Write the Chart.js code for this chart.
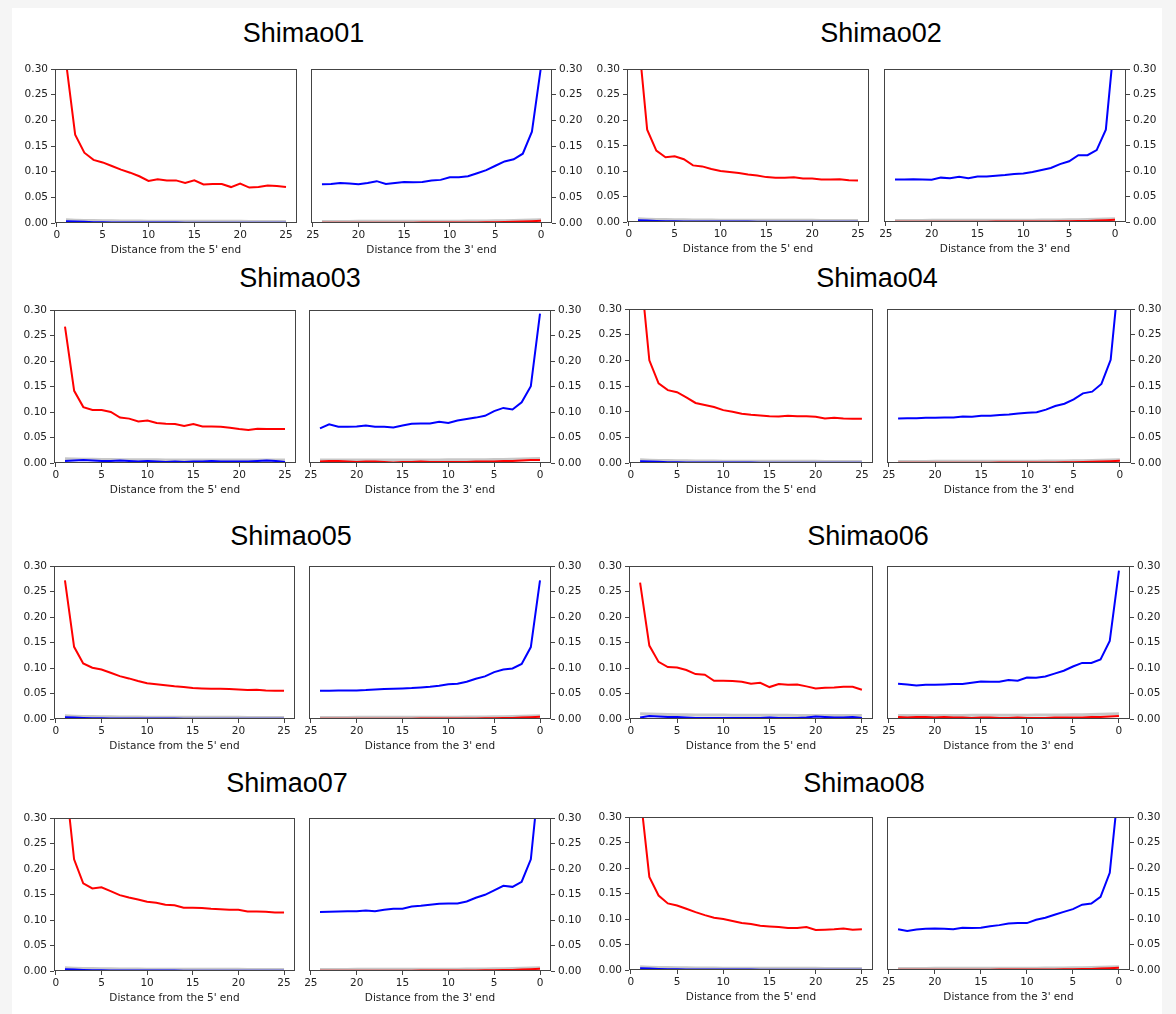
<!DOCTYPE html>
<html lang="en">
<head>
<meta charset="UTF-8">
<title>Shimao damage profiles</title>
<script src="https://cdn.jsdelivr.net/npm/chart.js"></script>
<style>
  html, body { margin: 0; padding: 0; }
  body { width: 1176px; height: 1014px; position: relative; background: #f5f5f5; overflow: hidden; }
  .sheet { position: absolute; left: 12px; top: 8px; width: 1150px; height: 1006px; background: #fff; }
  .title { position: absolute; font-family: "Liberation Sans", Arial, sans-serif; font-size: 27px; color: #000;
           transform: translate(-50%, -50%); white-space: nowrap; line-height: 1; }
  canvas { position: absolute; }
</style>
</head>
<body>
<div class="sheet"></div>
<script>
// positions along the read
const pos5 = [1,2,3,4,5,6,7,8,9,10,11,12,13,14,15,16,17,18,19,20,21,22,23,24,25];
const pos3 = [0,1,2,3,4,5,6,7,8,9,10,11,12,13,14,15,16,17,18,19,20,21,22,23,24];
const sampleNames = ['Shimao01','Shimao02','Shimao03','Shimao04','Shimao05','Shimao06','Shimao07','Shimao08'];

// C>T from the 5' end (red), x = 1..25
const ct5_01 = [0.314,0.172,0.137,0.123,0.118,0.111,0.104,0.098,0.091,0.082,0.085,0.083,0.083,0.078,0.083,0.075,0.076,0.076,0.070,0.077,0.069,0.070,0.073,0.072,0.070];
const ct5_02 = [0.370,0.181,0.140,0.127,0.129,0.123,0.111,0.109,0.104,0.100,0.098,0.096,0.093,0.091,0.088,0.087,0.087,0.0875,0.0855,0.0855,0.0835,0.0835,0.084,0.082,0.0815];
const ct5_03 = [0.2675,0.1415,0.1096,0.104,0.104,0.100,0.089,0.087,0.0815,0.0835,0.0785,0.077,0.0763,0.0724,0.0763,0.0718,0.0718,0.071,0.069,0.0665,0.0646,0.067,0.0665,0.0665,0.0665];
const ct5_04 = [0.385,0.200,0.155,0.142,0.138,0.128,0.117,0.113,0.109,0.103,0.0998,0.096,0.094,0.0926,0.0913,0.0907,0.092,0.0913,0.0913,0.090,0.0868,0.088,0.0868,0.086,0.086];
const ct5_05 = [0.272,0.1415,0.109,0.1005,0.097,0.0907,0.084,0.0796,0.0744,0.070,0.068,0.066,0.064,0.0626,0.0607,0.060,0.0594,0.0594,0.0587,0.058,0.0568,0.0574,0.0561,0.0555,0.0555];
const ct5_06 = [0.2675,0.144,0.112,0.1018,0.101,0.096,0.088,0.0868,0.075,0.075,0.0744,0.073,0.069,0.071,0.0626,0.0685,0.067,0.0678,0.064,0.060,0.0613,0.062,0.0633,0.0633,0.0574];
const ct5_07 = [0.386,0.219,0.172,0.162,0.164,0.1566,0.1487,0.144,0.140,0.1357,0.134,0.130,0.129,0.124,0.124,0.1233,0.122,0.1213,0.120,0.120,0.1168,0.1168,0.116,0.1148,0.1148];
const ct5_08 = [0.348,0.1826,0.146,0.1305,0.1265,0.120,0.1135,0.1076,0.1024,0.0998,0.096,0.092,0.090,0.0867,0.0855,0.0841,0.0822,0.0822,0.0841,0.0783,0.079,0.080,0.0815,0.079,0.080];

// G>A from the 3' end (blue), x = 0..24
const ga3_01 = [0.305,0.178,0.135,0.124,0.120,0.1115,0.103,0.097,0.091,0.089,0.089,0.084,0.083,0.080,0.0796,0.080,0.078,0.076,0.0815,0.078,0.0757,0.077,0.078,0.076,0.0757];
const ga3_02 = [0.370,0.181,0.141,0.131,0.131,0.119,0.1135,0.106,0.102,0.098,0.095,0.094,0.092,0.0907,0.0894,0.0894,0.086,0.0887,0.086,0.087,0.083,0.0835,0.084,0.0835,0.0835];
const ga3_03 = [0.2928,0.1507,0.119,0.105,0.108,0.1017,0.0926,0.089,0.0862,0.0835,0.0785,0.081,0.0776,0.0776,0.077,0.0737,0.0698,0.071,0.071,0.0737,0.0718,0.071,0.071,0.0757,0.0678];
const ga3_04 = [0.385,0.201,0.154,0.139,0.1357,0.124,0.1155,0.111,0.104,0.099,0.0978,0.0965,0.0946,0.0933,0.092,0.092,0.090,0.0907,0.0887,0.0887,0.088,0.088,0.0874,0.0874,0.0868];
const ga3_05 = [0.272,0.141,0.108,0.099,0.097,0.092,0.0835,0.079,0.073,0.069,0.068,0.0652,0.0633,0.062,0.0607,0.060,0.0594,0.0587,0.058,0.0568,0.0561,0.0561,0.0561,0.0555,0.0555];
const ga3_06 = [0.291,0.153,0.1168,0.110,0.110,0.103,0.0946,0.089,0.0835,0.081,0.0815,0.075,0.0763,0.073,0.073,0.0737,0.071,0.0685,0.0685,0.0678,0.067,0.067,0.0659,0.0678,0.069];
const ga3_07 = [0.396,0.219,0.175,0.165,0.167,0.158,0.1494,0.1435,0.1363,0.1324,0.1324,0.1318,0.130,0.128,0.1266,0.122,0.122,0.120,0.1174,0.1187,0.1174,0.1174,0.1168,0.116,0.1155];
const ga3_08 = [0.367,0.1905,0.1435,0.1305,0.128,0.1194,0.114,0.1083,0.1024,0.0985,0.092,0.092,0.0913,0.088,0.086,0.083,0.0822,0.083,0.080,0.081,0.0815,0.081,0.0796,0.0763,0.080];

// near-zero lines: G>A at 5', C>T at 3', other substitutions (grey)
const ga5_low    = [0.0035,0.0028,0.0022,0.0017,0.0014,0.0012,0.0011,0.001,0.0009,0.0009,0.0008,0.0008,0.0008,0.0007,0.0007,0.0007,0.0007,0.0007,0.0006,0.0006,0.0006,0.0006,0.0006,0.0006,0.0006];
const other5_low = [0.0062,0.0056,0.0051,0.0047,0.0044,0.0042,0.004,0.0038,0.0037,0.0036,0.0035,0.0034,0.0034,0.0033,0.0033,0.0033,0.0032,0.0032,0.0032,0.0032,0.0031,0.0031,0.0031,0.0031,0.0031];
const ct3_low    = [0.0042,0.0034,0.0027,0.0022,0.0018,0.0015,0.0013,0.0011,0.001,0.0009,0.0009,0.0008,0.0008,0.0008,0.0007,0.0007,0.0007,0.0007,0.0007,0.0006,0.0006,0.0006,0.0006,0.0006,0.0006];
const other3_low = [0.0064,0.0058,0.0053,0.0048,0.0045,0.0042,0.004,0.0039,0.0037,0.0036,0.0035,0.0035,0.0034,0.0034,0.0033,0.0033,0.0033,0.0032,0.0032,0.0032,0.0032,0.0031,0.0031,0.0031,0.0031];
const ga5_03    = [0.004,0.005,0.006,0.005,0.004,0.004,0.005,0.004,0.003,0.004,0.003,0.002,0.003,0.002,0.003,0.003,0.004,0.003,0.003,0.003,0.003,0.004,0.005,0.004,0.002];
const other5_03 = [0.0085,0.008,0.0075,0.0072,0.007,0.0068,0.0066,0.0065,0.0064,0.0063,0.0062,0.0061,0.0061,0.006,0.006,0.006,0.006,0.0059,0.0059,0.0059,0.0059,0.0059,0.0058,0.0058,0.0058];
const ct3_03    = [0.006,0.006,0.005,0.004,0.004,0.003,0.003,0.003,0.002,0.002,0.002,0.002,0.002,0.003,0.002,0.002,0.001,0.002,0.003,0.003,0.002,0.003,0.004,0.004,0.003];
const other3_03 = [0.0088,0.0082,0.0076,0.0072,0.007,0.0068,0.0066,0.0065,0.0064,0.0063,0.0062,0.0061,0.006,0.006,0.006,0.006,0.0059,0.0059,0.0059,0.0059,0.0058,0.0058,0.0058,0.0058,0.0058];
const ga5_06    = [0.003,0.006,0.005,0.004,0.004,0.003,0.002,0.002,0.002,0.002,0.002,0.002,0.002,0.002,0.003,0.002,0.002,0.002,0.003,0.005,0.004,0.003,0.003,0.004,0.002];
const other5_06 = [0.0105,0.0098,0.0092,0.0088,0.0085,0.0082,0.008,0.0078,0.0077,0.0076,0.0075,0.0074,0.0073,0.0073,0.0072,0.0072,0.0072,0.0071,0.0071,0.0071,0.0071,0.007,0.007,0.007,0.007];
const ct3_06    = [0.006,0.005,0.004,0.004,0.003,0.003,0.003,0.003,0.002,0.002,0.002,0.003,0.002,0.002,0.003,0.003,0.002,0.003,0.003,0.004,0.003,0.004,0.004,0.003,0.004];
const other3_06 = [0.0105,0.0098,0.0092,0.0088,0.0085,0.0082,0.008,0.0078,0.0077,0.0076,0.0075,0.0074,0.0073,0.0073,0.0072,0.0072,0.0072,0.0071,0.0071,0.0071,0.0071,0.007,0.007,0.007,0.007];

const panels = [
  { ct5: ct5_01, ga3: ga3_01, ga5: ga5_low, ct3: ct3_low, o5: other5_low, o3: other3_low },
  { ct5: ct5_02, ga3: ga3_02, ga5: ga5_low, ct3: ct3_low, o5: other5_low, o3: other3_low },
  { ct5: ct5_03, ga3: ga3_03, ga5: ga5_03,  ct3: ct3_03,  o5: other5_03,  o3: other3_03 },
  { ct5: ct5_04, ga3: ga3_04, ga5: ga5_low, ct3: ct3_low, o5: other5_low, o3: other3_low },
  { ct5: ct5_05, ga3: ga3_05, ga5: ga5_low, ct3: ct3_low, o5: other5_low, o3: other3_low },
  { ct5: ct5_06, ga3: ga3_06, ga5: ga5_06,  ct3: ct3_06,  o5: other5_06,  o3: other3_06 },
  { ct5: ct5_07, ga3: ga3_07, ga5: ga5_low, ct3: ct3_low, o5: other5_low, o3: other3_low },
  { ct5: ct5_08, ga3: ga3_08, ga5: ga5_low, ct3: ct3_low, o5: other5_low, o3: other3_low }
];

// screen boxes: title x, title y, left plot l/r, right plot l/r, top, bottom
const boxes = [
  [303.5, 33, 55, 297, 311, 552, 69, 223],
  [881, 33, 627, 869, 884, 1126, 69, 222],
  [300, 278, 54, 296, 309, 551, 310, 463],
  [877, 278, 629, 873, 887, 1131, 309, 463],
  [291, 536, 54, 295, 309, 551, 566, 719],
  [868, 536, 629, 873, 887, 1130, 566, 719],
  [287, 783, 54, 295, 309, 551, 818, 971],
  [864, 783, 629, 873, 887, 1130, 817, 970]
];

const YW = 45, XH = 34, PAD = 10;
const spine = '#444';

Chart.defaults.font.family = '"DejaVu Sans", sans-serif';
Chart.defaults.font.size = 10.5;
Chart.defaults.color = '#222';

const boxPlugin = {
  id: 'axesBox',
  afterDraw(chart) {
    const { ctx, chartArea: a } = chart;
    ctx.save();
    ctx.strokeStyle = spine;
    ctx.lineWidth = 1;
    ctx.strokeRect(Math.round(a.left) + 0.5, Math.round(a.top) + 0.5,
                   Math.round(a.right - a.left) - 1, Math.round(a.bottom - a.top) - 1);
    ctx.restore();
  }
};

function pts(xs, ys) { return xs.map((x, i) => ({ x: x, y: ys[i] })); }

function line(data, color, width) {
  return { data: data, borderColor: color, borderWidth: width, pointRadius: 0, tension: 0, clip: 0, fill: false };
}

function makePlot(left, top, w, h, side, datasets, xlabel) {
  const canvas = document.createElement('canvas');
  const cw = side === 'left' ? YW + w + PAD : PAD + w + YW;
  const ch = PAD + h + XH;
  canvas.width = cw; canvas.height = ch;
  canvas.style.left = (side === 'left' ? left - YW : left - PAD) + 'px';
  canvas.style.top = (top - PAD) + 'px';
  canvas.style.width = cw + 'px'; canvas.style.height = ch + 'px';
  document.body.appendChild(canvas);

  new Chart(canvas, {
    type: 'line',
    data: { datasets: datasets },
    options: {
      responsive: false, animation: false, devicePixelRatio: 1,
      layout: { padding: side === 'left' ? { left: 0, right: PAD, top: PAD, bottom: 0 }
                                        : { left: PAD, right: 0, top: PAD, bottom: 0 } },
      plugins: { legend: { display: false }, tooltip: { enabled: false } },
      scales: {
        x: {
          type: 'linear',
          min: side === 'left' ? -0.2 : -1.2,
          max: side === 'left' ? 26.2 : 25.2,
          reverse: side !== 'left',
          ticks: { stepSize: 5, includeBounds: false, padding: 2, maxRotation: 0 },
          grid: { drawOnChartArea: false, drawTicks: true, tickLength: 4, color: spine },
          border: { display: false },
          title: { display: true, text: xlabel, padding: { top: 0, bottom: 0 }, font: { size: 10.5 } },
          afterFit(s) { s.height = XH; }
        },
        y: {
          position: side,
          min: 0, max: 0.3,
          ticks: { stepSize: 0.05, padding: 3, callback: v => v.toFixed(2) },
          grid: { drawOnChartArea: false, drawTicks: true, tickLength: 4, color: spine },
          border: { display: false },
          afterFit(s) { s.width = YW; }
        }
      }
    },
    plugins: [boxPlugin]
  });
}

const grey = 'rgba(130,130,130,0.45)';

panels.forEach((p, i) => {
  const [tx, ty, l1, r1, l2, r2, top, bottom] = boxes[i];
  const t = document.createElement('div');
  t.className = 'title';
  t.textContent = sampleNames[i];
  t.style.left = tx + 'px';
  t.style.top = ty + 'px';
  document.body.appendChild(t);

  const h = bottom - top;
  makePlot(l1, top, r1 - l1, h, 'left', [
    line(pts(pos5, p.ct5), '#ff0000', 2),
    line(pts(pos5, p.ga5), '#0000ff', 2),
    line(pts(pos5, p.o5), grey, 3)
  ], "Distance from the 5' end");

  makePlot(l2, top, r2 - l2, h, 'right', [
    line(pts(pos3, p.ga3), '#0000ff', 2),
    line(pts(pos3, p.ct3), '#ff0000', 2),
    line(pts(pos3, p.o3), grey, 3)
  ], "Distance from the 3' end");
});
</script>
</body>
</html>
